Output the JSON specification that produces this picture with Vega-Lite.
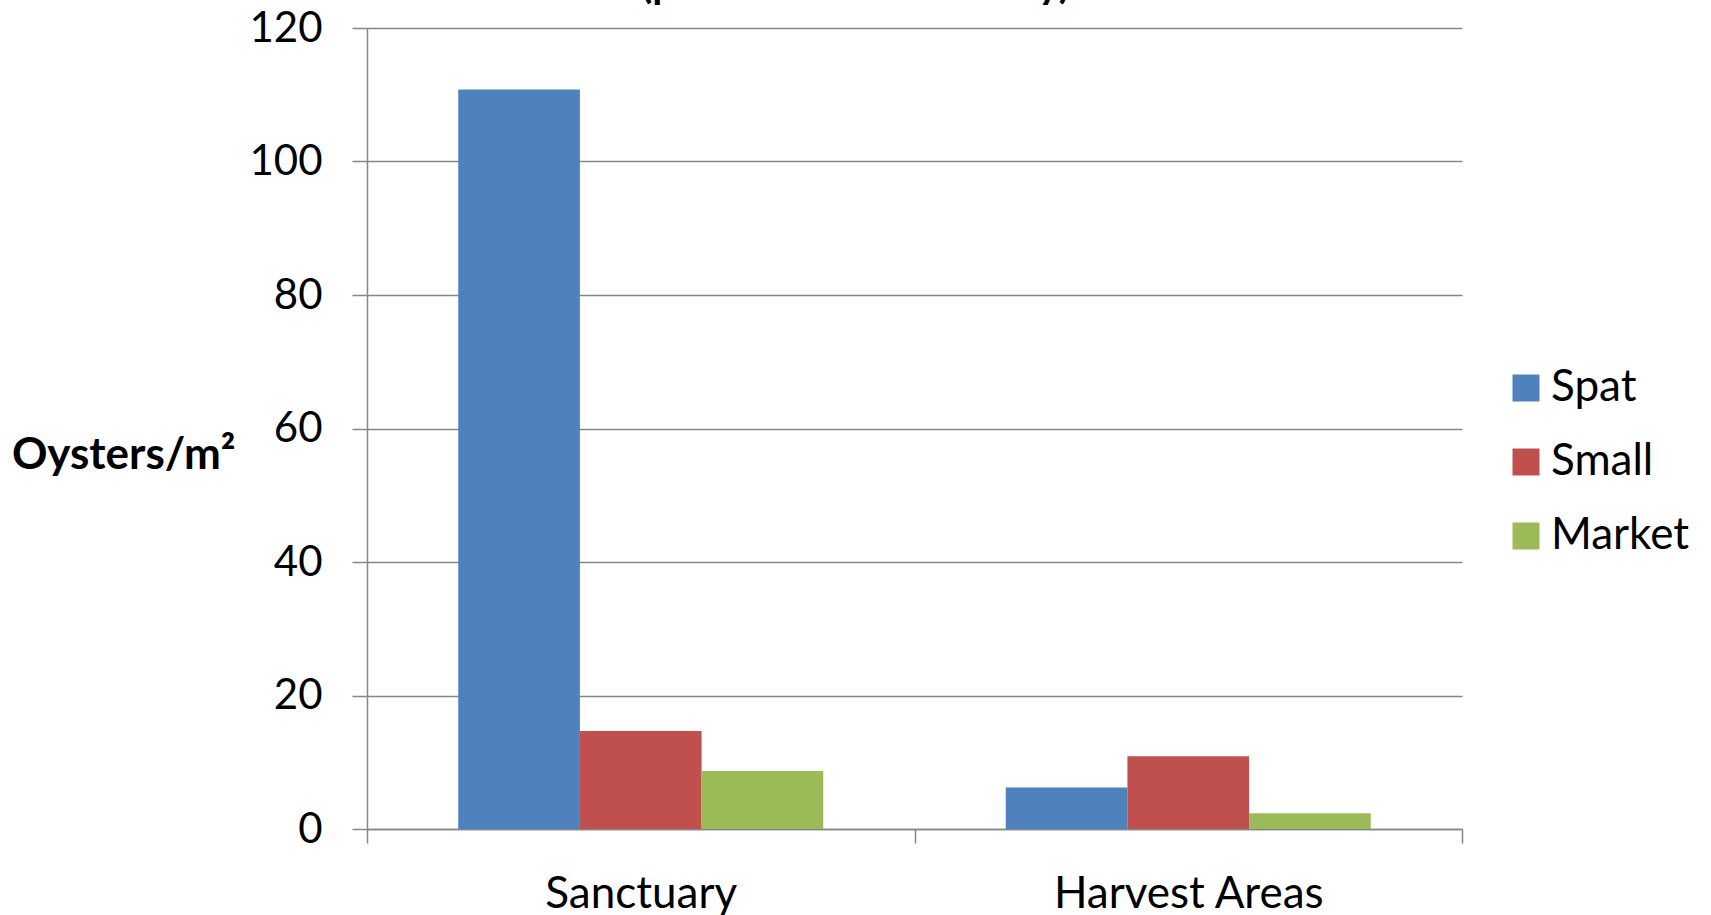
{
  "$schema": "https://vega.github.io/schema/vega-lite/v6.json",
  "width": 1095,
  "height": 801,
  "autosize": {"type": "none"},
  "padding": {"left": 367, "top": 28, "right": 249, "bottom": 86},
  "background": "white",
  "title": {
    "text": "(pre-restoration survey)",
    "font": "Lato",
    "fontSize": 41,
    "fontWeight": "bold",
    "color": "black",
    "anchor": "middle",
    "dx": -59,
    "offset": 0
  },
  "data": {
    "values": [
      {"site": "Sanctuary", "size": "Spat", "density": 110.8},
      {"site": "Sanctuary", "size": "Small", "density": 14.7},
      {"site": "Sanctuary", "size": "Market", "density": 8.7},
      {"site": "Harvest Areas", "size": "Spat", "density": 6.2},
      {"site": "Harvest Areas", "size": "Small", "density": 10.9},
      {"site": "Harvest Areas", "size": "Market", "density": 2.35}
    ]
  },
  "mark": {"type": "bar"},
  "encoding": {
    "x": {
      "field": "site",
      "type": "nominal",
      "sort": ["Sanctuary", "Harvest Areas"],
      "scale": {"paddingInner": 0, "paddingOuter": 0},
      "axis": {
        "title": null,
        "labelAngle": 0,
        "labelFont": "Lato",
        "labelFontSize": 44,
        "labelLimit": 0,
        "labelColor": "black",
        "labelPadding": 29,
        "tickBand": "extent",
        "tickSize": 14,
        "tickColor": "#868686",
        "tickWidth": 1.5,
        "domainColor": "#868686",
        "domainWidth": 1.5,
        "grid": false
      }
    },
    "xOffset": {
      "field": "size",
      "type": "nominal",
      "sort": ["Spat", "Small", "Market"],
      "scale": {"paddingInner": 0, "paddingOuter": 0.75}
    },
    "y": {
      "field": "density",
      "type": "quantitative",
      "scale": {"domain": [0, 120], "nice": false},
      "axis": {
        "values": [0, 20, 40, 60, 80, 100, 120],
        "title": "Oysters/m²",
        "titleAngle": 0,
        "titleAlign": "right",
        "titleBaseline": "middle",
        "titleX": -132,
        "titleY": 427,
        "titleFont": "Lato",
        "titleFontSize": 44,
        "titleFontWeight": "bold",
        "titleColor": "black",
        "titleLimit": 0,
        "labelFont": "Lato",
        "labelFontSize": 42,
        "labelColor": "black",
        "labelPadding": 30,
        "tickSize": 15,
        "tickColor": "#868686",
        "tickWidth": 1.5,
        "domainColor": "#868686",
        "domainWidth": 1.5,
        "gridColor": "#868686",
        "gridWidth": 1.5
      }
    },
    "color": {
      "field": "size",
      "type": "nominal",
      "sort": ["Spat", "Small", "Market"],
      "scale": {"domain": ["Spat", "Small", "Market"], "range": ["#4F81BD", "#C0504D", "#9BBB59"]},
      "legend": {
        "title": null,
        "orient": "none",
        "legendX": 1137,
        "legendY": 338,
        "symbolType": "square",
        "symbolSize": 729,
        "symbolStrokeWidth": 0,
        "labelFont": "Lato",
        "labelFontSize": 44,
        "labelLimit": 0,
        "labelColor": "black",
        "labelOffset": 3,
        "rowPadding": 30
      }
    }
  },
  "config": {
    "view": {"stroke": null}
  }
}
